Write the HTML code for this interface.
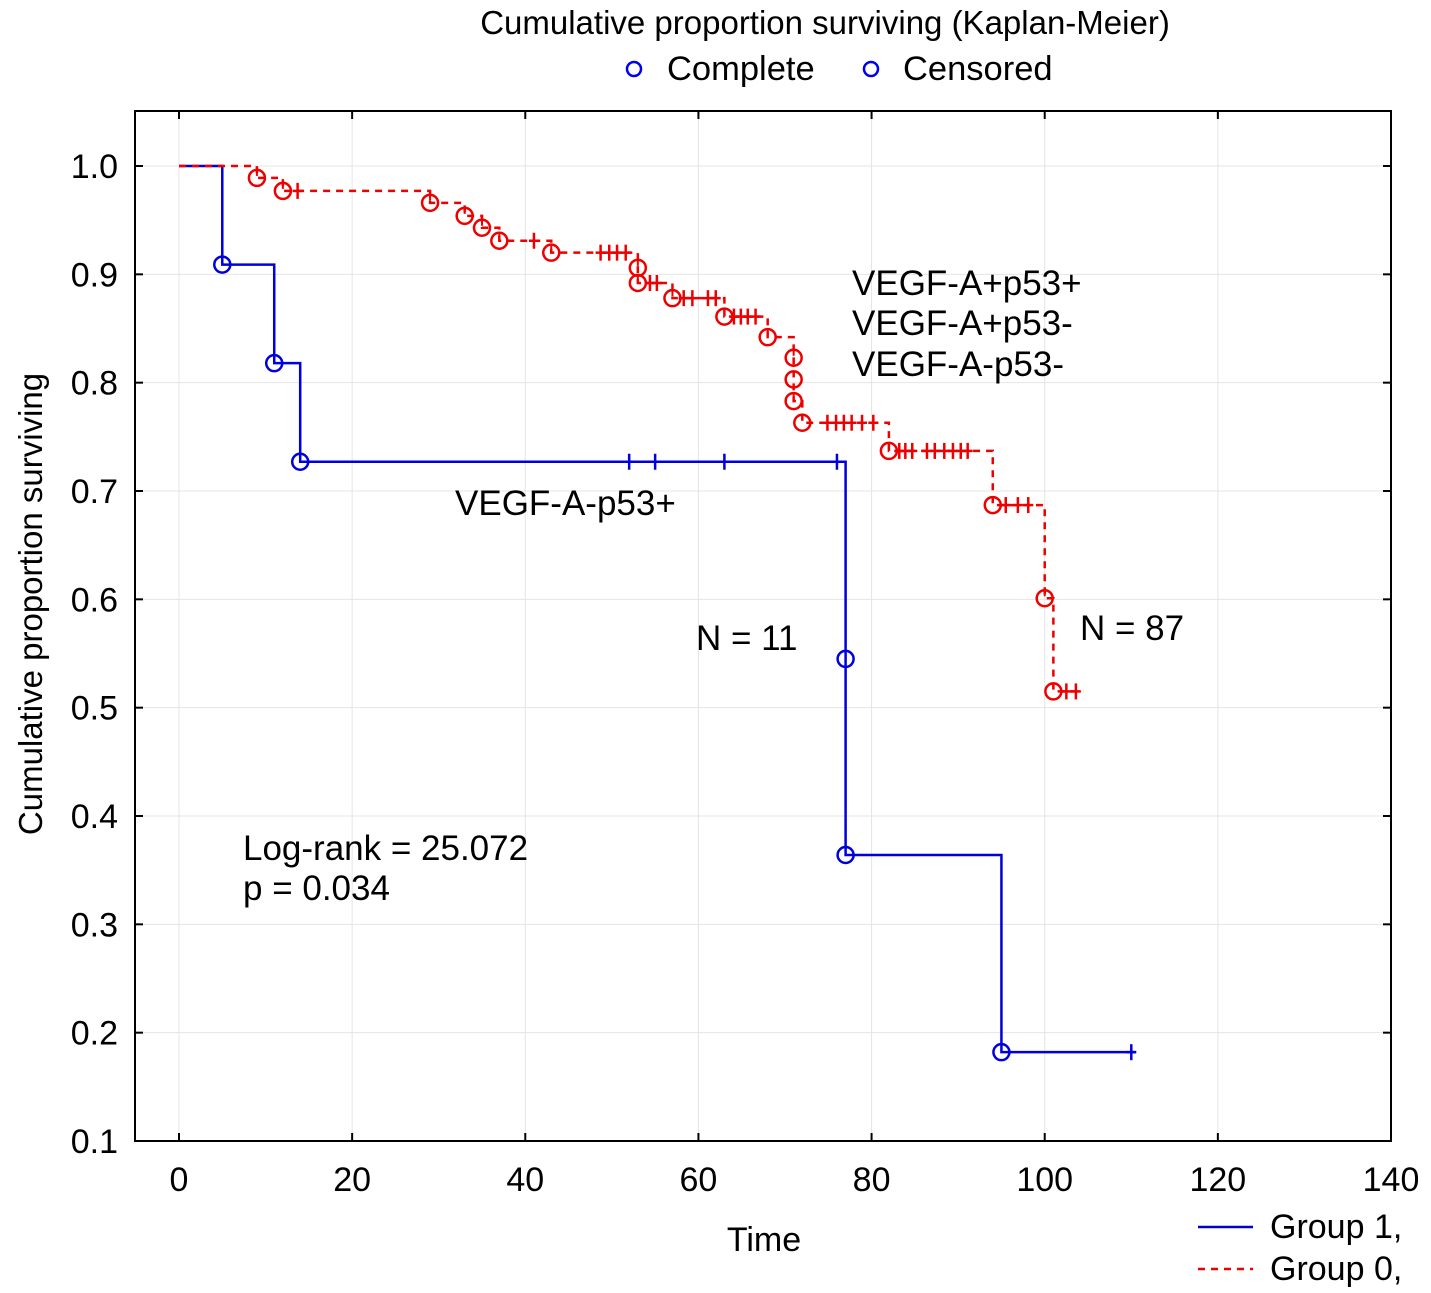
<!DOCTYPE html>
<html><head><meta charset="utf-8">
<style>
html,body{margin:0;padding:0;background:#fff;}
svg{display:block;font-family:"Liberation Sans",Arial,sans-serif;}
</style></head>
<body>
<svg id="chart" width="1431" height="1293" viewBox="0 0 1431 1293" xmlns="http://www.w3.org/2000/svg">
<rect x="0" y="0" width="1431" height="1293" fill="#fff"/>
<text x="825" y="34" font-size="33" text-anchor="middle">Cumulative proportion surviving (Kaplan-Meier)</text>
<g>
<circle cx="634" cy="69" r="7" fill="none" stroke="#0000ee" stroke-width="2.5"/>
<text x="667" y="80" font-size="34.5">Complete</text>
<circle cx="871" cy="69" r="7" fill="none" stroke="#0000ee" stroke-width="2.5"/>
<text x="903" y="80" font-size="34.5">Censored</text>
</g>
<g id="grid"></g>
<g id="axes"></g>
<g id="series"></g>
<text x="852" y="295" font-size="35">VEGF-A+p53+</text>
<text x="852" y="335" font-size="35">VEGF-A+p53-</text>
<text x="852" y="376" font-size="35">VEGF-A-p53-</text>
<text x="455" y="515" font-size="35">VEGF-A-p53+</text>
<text x="696" y="650" font-size="35">N = 11</text>
<text x="1080" y="640" font-size="35">N = 87</text>
<text x="243" y="860" font-size="35">Log-rank = 25.072</text>
<text x="243" y="900" font-size="35">p = 0.034</text>
<text x="764" y="1251" font-size="34" text-anchor="middle">Time</text>
<text transform="translate(42,604) rotate(-90)" font-size="33" text-anchor="middle">Cumulative proportion surviving</text>
<g>
<line x1="1198" y1="1227" x2="1253" y2="1227" stroke="#0000cc" stroke-width="2.5"/>
<text x="1270" y="1238" font-size="34">Group 1,</text>
<line x1="1198" y1="1269" x2="1253" y2="1269" stroke="#ee0000" stroke-width="2.5" stroke-dasharray="7,6"/>
<text x="1270" y="1280" font-size="34">Group 0,</text>
</g>
</svg>
<script>
const xTicks=[0,20,40,60,80,100,120,140];
const yTicks=[0.1,0.2,0.3,0.4,0.5,0.6,0.7,0.8,0.9,1.0];
const blueEventT=[5,11,14,77,77,95];
const blueEventS=[0.909,0.818,0.727,0.545,0.364,0.182];
const blueCensT=[52,55,63,76,110];
const blueEnd=110.5;
const redEventT=[9,12,29,33,35,37,43,53,53,57,63,68,71,71,71,72,82,94,100,101];
const redEventS=[0.989,0.977,0.966,0.954,0.943,0.931,0.920,0.906,0.892,0.878,0.861,0.842,0.823,0.803,0.783,0.763,0.737,0.687,0.601,0.515];
const redCensT=[13.7,41,48.7,49.7,50.6,51.6,54.4,55.2,58.3,59.3,61.1,62,64.1,64.9,65.7,66.6,74.9,75.9,76.8,77.7,78.9,80.2,83.2,83.9,84.7,86.4,87.3,88.4,89.4,90.3,91.1,95.5,96.9,98.1,102.5,103.6];
const redEnd=104.5;

const NS='http://www.w3.org/2000/svg';
const L=135,R=1391,T=111,B=1141;
const X=t=>179+t*(1391-179)/140;
const Y=s=>166+(1-s)*(1141-166)/0.9;
function mk(tag,attrs,parent){const e=document.createElementNS(NS,tag);for(const k in attrs)e.setAttribute(k,attrs[k]);parent.appendChild(e);return e;}
const grid=document.getElementById('grid'),axes=document.getElementById('axes'),series=document.getElementById('series');
xTicks.forEach(v=>{
  const g=mk('line',{x1:X(v),x2:X(v),y1:T,y2:B,stroke:'#e4e4e4','stroke-width':1},grid);
  
  
  const a=mk('line',{x1:X(v),x2:X(v),y1:B,y2:B-8,stroke:'#000','stroke-width':2},axes);
  
  
  const b=mk('line',{x1:X(v),x2:X(v),y1:T,y2:T+8,stroke:'#000','stroke-width':2},axes);
  
  
  const t=mk('text',{x:X(v),y:1191,'font-size':34,'text-anchor':'middle'},axes);
  t.textContent=v;
  
  
});
yTicks.forEach(v=>{
  const g=mk('line',{x1:L,x2:R,y1:Y(v),y2:Y(v),stroke:'#e4e4e4','stroke-width':1},grid);
  
  
  const a=mk('line',{x1:L,x2:L+8,y1:Y(v),y2:Y(v),stroke:'#000','stroke-width':2},axes);
  
  
  const b=mk('line',{x1:R,x2:R-8,y1:Y(v),y2:Y(v),stroke:'#000','stroke-width':2},axes);
  
  
  const t=mk('text',{x:118,y:Y(v)+12,'font-size':34,'text-anchor':'end'},axes);
  t.textContent=v.toFixed(1);
  
  
});
const frame=mk('rect',{x:L,y:T,width:R-L,height:B-T,fill:'none',stroke:'#000','stroke-width':2},axes);



function survAt(t,ET,ES){let s=1;for(let i=0;i<ET.length;i++){if(ET[i]<=t)s=ES[i];}return s;}
function drawSeries(name,ET,ES,CT,end,color,dash,tickInCircle){
  const g=mk('g',{},series);
  
  
  let d='M'+X(0)+','+Y(1);
  for(let i=0;i<ET.length;i++){d+=' H'+X(ET[i])+' V'+Y(ES[i]);}
  d+=' H'+X(end);
  const p=mk('path',{d:d,fill:'none',stroke:color,'stroke-width':2.5},g);
  if(dash)p.setAttribute('stroke-dasharray',dash);
  
  
  for(let i=0;i<ET.length;i++){
    const c=mk('circle',{cx:X(ET[i]),cy:Y(ES[i]),r:8,fill:'none',stroke:color,'stroke-width':2.5},g);
    
    
    if(tickInCircle){
      const k=mk('line',{x1:X(ET[i]),x2:X(ET[i]),y1:Y(ES[i])-8,y2:Y(ES[i])-2,stroke:color,'stroke-width':2},g);
      
      
    }
  }
  CT.forEach(t=>{
    const sv=survAt(t,ET,ES);
    const c=mk('line',{x1:X(t),x2:X(t),y1:Y(sv)-8,y2:Y(sv)+8,stroke:color,'stroke-width':2.5},g);
    
    
    const h=mk('line',{x1:X(t)-5,x2:X(t)+5,y1:Y(sv),y2:Y(sv),stroke:color,'stroke-width':2.5},g);
    
    
  });
}
drawSeries('group1-curve',blueEventT,blueEventS,blueCensT,blueEnd,'#0000dd',null,false);
drawSeries('group0-curve',redEventT,redEventS,redCensT,redEnd,'#ee0000','7,6',true);
</script>
</body></html>
